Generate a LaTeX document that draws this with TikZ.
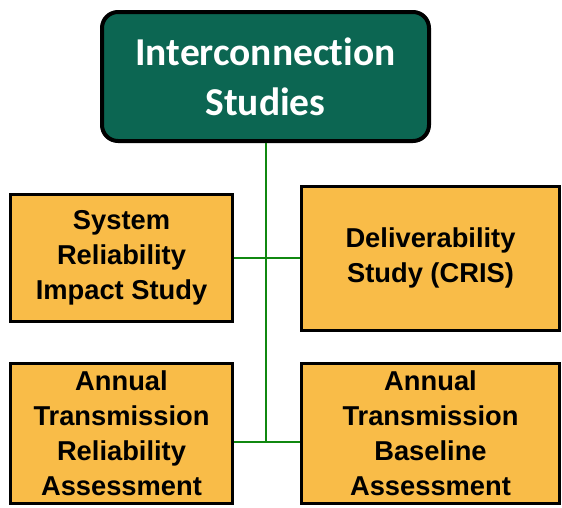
\documentclass[tikz,border=0pt]{standalone}
\usepackage{fontspec}
\setmainfont{Liberation Sans}
\newfontfamily\topfont[Ligatures=NoCommon]{Carlito}
\definecolor{studygreen}{RGB}{12,102,82}
\definecolor{studyorange}{RGB}{249,188,72}
\definecolor{linkgreen}{RGB}{16,136,16}
\begin{document}
\begin{tikzpicture}[x=1pt,y=-1pt,
topbox/.style={draw=black,line width=4pt,fill=studygreen,rounded corners=16pt,text=white,align=center,inner sep=0pt,font=\topfont\bfseries\fontsize{39.5}{50}\selectfont},
studybox/.style={draw=black,line width=3pt,fill=studyorange,align=center,inner sep=0pt,font=\bfseries\fontsize{27.3}{35}\selectfont},
link/.style={draw=linkgreen,line width=2pt}]
\useasboundingbox (0,0) rectangle (562,507);
\node[topbox,minimum width=327,minimum height=129](ics) at (265.5,76.5){Interconnection\\Studies};
\foreach \bname/\bx/\by/\bw/\bh/\blb in {sris/121.5/258/222/127/{System\\Reliability\\Impact Study},deliv/430.5/258/258/144/{Deliverability\\Study (CRIS)},atra/121.5/433.5/222/140/{Annual\\Transmission\\Reliability\\Assessment},atba/430.5/433.5/258/140/{Annual\\Transmission\\Baseline\\Assessment}}{\node[studybox,minimum width=\bw,minimum height=\bh](\bname) at (\bx,\by){\blb};}
\coordinate (trunk) at (265.5,442);
\draw[link](ics.south)--(trunk);
\draw[link](sris.east)--(deliv.west);
\draw[link](atra.east |- trunk)--(atba.west |- trunk);
\end{tikzpicture}
\end{document}
